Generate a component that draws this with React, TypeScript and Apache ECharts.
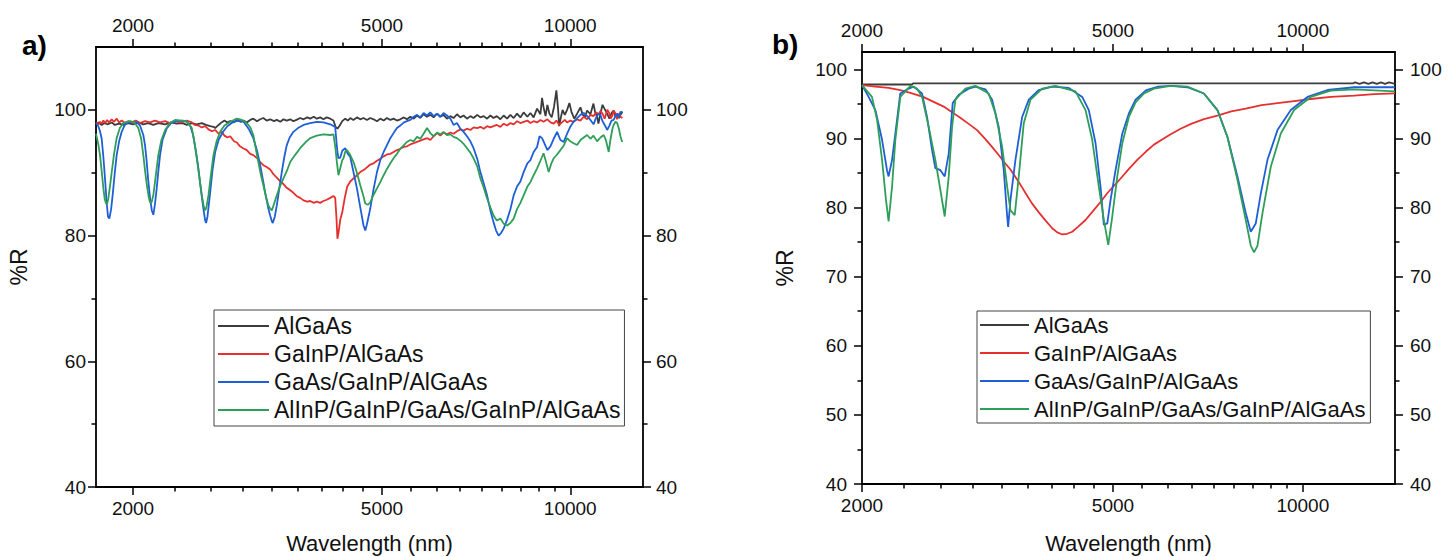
import React, { useEffect, useRef } from "react";
import * as echarts from "echarts";

const FONT = "'Liberation Sans', Arial, Helvetica, sans-serif";

const seriesNames = ["AlGaAs", "GaInP/AlGaAs", "GaAs/GaInP/AlGaAs", "AlInP/GaInP/GaAs/GaInP/AlGaAs"];
const seriesColors = ["#3c3c3c", "#e5302f", "#1f5fd6", "#2f9e58"];

const xMajorTicks = [2000, 5000, 10000];
const xMinorTicks = [2333.3, 2666.7, 3000, 3333.3, 3666.7, 4000, 4333.3, 4666.7, 5555.6, 6111.1, 6666.7, 7222.2, 7777.8, 8333.3, 8888.9, 9444.4];
const aYMajor = [40, 60, 80, 100];
const aYMinor = [50, 70, 90];
const bYMajor = [40, 50, 60, 70, 80, 90, 100];
const bYMinor = [45, 55, 65, 75, 85, 95];

// ---------- panel a) measured ----------
const aBlack = [
  [1745, 97.8], [1760, 98.0], [1782, 97.6], [1800, 97.9], [1824, 97.7], [1849, 98.0], [1870, 97.6], [1900, 97.8], [1930, 97.6], [1963, 97.9],
  [2000, 97.7], [2039, 98.0], [2077, 97.7], [2114, 97.9], [2155, 97.6], [2195, 97.9], [2251, 97.7], [2300, 98.0], [2349, 97.8], [2400, 97.9],
  [2437, 97.6], [2483, 97.9], [2529, 97.7], [2576, 97.9], [2617, 97.6], [2657, 97.4], [2689, 97.3], [2706, 97.1], [2740, 97.6], [2770, 98.0],
  [2800, 98.3], [2830, 98.0], [2860, 98.2], [2900, 98.0], [2931, 98.4], [2970, 98.1], [3004, 98.3], [3040, 98.0], [3078, 98.4], [3114, 98.6],
  [3157, 98.2], [3194, 98.5], [3231, 98.7], [3270, 98.3], [3313, 98.5], [3360, 98.2], [3395, 98.4], [3440, 98.1], [3479, 98.5], [3522, 98.3],
  [3567, 98.5], [3609, 98.2], [3650, 98.4], [3700, 98.7], [3746, 98.5], [3797, 98.8], [3839, 98.6], [3890, 98.9], [3934, 98.6], [3983, 98.8],
  [4031, 98.5], [4080, 98.8], [4133, 98.6], [4182, 98.3], [4215, 97.3], [4244, 97.0], [4280, 97.5], [4320, 98.2], [4367, 98.6], [4410, 98.3],
  [4449, 98.7], [4500, 98.4], [4560, 98.8], [4616, 98.5], [4672, 98.7], [4731, 98.4], [4789, 98.7], [4848, 98.5], [4909, 98.2], [4969, 98.6],
  [5031, 98.3], [5093, 98.7], [5156, 98.4], [5218, 98.6], [5284, 98.3], [5349, 98.5], [5420, 98.8], [5483, 98.5], [5550, 98.9], [5620, 98.6],
  [5688, 99.1], [5758, 98.7], [5828, 99.3], [5900, 98.9], [5974, 99.2], [6047, 98.8], [6124, 99.4], [6198, 98.9], [6272, 99.2], [6351, 98.6],
  [6431, 99.0], [6508, 98.7], [6590, 99.3], [6672, 98.8], [6752, 99.1], [6837, 98.6], [6923, 99.0], [7005, 98.7], [7101, 99.2], [7183, 98.8],
  [7272, 99.0], [7362, 98.6], [7452, 99.1], [7540, 98.7], [7630, 99.0], [7732, 98.5], [7825, 99.1], [7924, 98.6], [8022, 99.2], [8119, 98.7],
  [8220, 99.4], [8323, 98.8], [8423, 99.6], [8539, 98.9], [8635, 99.5], [8739, 98.8], [8850, 100.2], [8959, 99.3], [9014, 101.9], [9064, 100.4],
  [9130, 99.0], [9192, 100.8], [9260, 99.4], [9340, 98.8], [9420, 100.5], [9502, 103.1], [9560, 100.2], [9600, 97.4], [9660, 98.8], [9720, 100.0],
  [9800, 99.2], [9884, 100.0], [9968, 101.1], [10050, 99.6], [10150, 98.6], [10255, 99.4], [10381, 100.4], [10470, 99.2], [10560, 98.9], [10640, 99.9],
  [10770, 99.3], [10890, 101.0], [10960, 99.6], [11040, 98.9], [11092, 97.8], [11175, 99.4], [11260, 100.8], [11340, 100.2], [11453, 99.4], [11550, 98.6],
  [11640, 99.5], [11730, 99.9], [11810, 98.9], [11884, 99.4], [11960, 98.7], [12029, 99.2], [12118, 99.7],
];

const aRed = [
  [1745, 98.0], [1760, 97.7], [1771, 98.1], [1782, 97.8], [1793, 98.3], [1805, 97.9], [1818, 98.4], [1830, 98.0], [1849, 98.5], [1865, 98.1],
  [1883, 98.6], [1900, 98.0], [1918, 98.3], [1940, 97.9], [1963, 98.2], [1990, 98.0], [2020, 98.3], [2052, 97.9], [2090, 98.2], [2129, 98.0],
  [2168, 98.3], [2209, 98.0], [2251, 98.2], [2290, 97.9], [2335, 98.2], [2380, 98.0], [2437, 98.3], [2483, 98.0], [2510, 97.6], [2544, 97.5],
  [2576, 97.2], [2608, 97.4], [2640, 96.9], [2673, 96.6], [2706, 96.8], [2740, 96.2], [2770, 96.5], [2800, 95.9], [2830, 95.6], [2860, 95.8],
  [2900, 95.0], [2931, 94.8], [2965, 94.2], [2999, 93.9], [3040, 93.6], [3078, 93.0], [3114, 92.8], [3157, 92.3], [3194, 91.7], [3231, 91.2],
  [3270, 90.9], [3313, 90.5], [3345, 89.9], [3395, 89.2], [3440, 88.6], [3479, 88.2], [3522, 87.6], [3567, 87.2], [3609, 86.8], [3650, 86.3],
  [3700, 86.0], [3746, 85.6], [3797, 85.4], [3839, 85.5], [3890, 85.2], [3934, 85.4], [3983, 85.2], [4031, 85.5], [4080, 85.7], [4133, 86.0],
  [4182, 86.3], [4209, 86.0], [4228, 83.0], [4244, 79.5], [4262, 80.5], [4288, 82.5], [4320, 83.7], [4360, 86.0], [4400, 87.8], [4449, 88.6],
  [4503, 89.1], [4560, 89.6], [4616, 90.1], [4700, 90.6], [4789, 91.3], [4848, 91.5], [4909, 91.9], [4969, 92.2], [5031, 92.6], [5093, 92.9],
  [5156, 93.0], [5218, 93.3], [5284, 93.6], [5349, 93.8], [5420, 94.1], [5483, 94.2], [5550, 94.5], [5620, 94.7], [5688, 94.9], [5758, 95.1],
  [5828, 95.3], [5908, 95.5], [5974, 95.2], [6047, 95.8], [6124, 96.3], [6198, 95.9], [6272, 96.4], [6351, 96.1], [6431, 96.4], [6508, 96.2],
  [6590, 96.6], [6672, 96.9], [6752, 96.7], [6837, 97.0], [6923, 96.8], [7005, 97.2], [7101, 97.1], [7183, 97.3], [7272, 97.0], [7362, 97.4],
  [7452, 97.2], [7540, 97.4], [7630, 97.6], [7732, 97.3], [7825, 97.8], [7924, 97.5], [8022, 97.9], [8119, 97.7], [8220, 98.2], [8323, 97.9],
  [8423, 98.1], [8539, 98.3], [8635, 97.9], [8739, 98.2], [8850, 98.0], [8959, 98.4], [9064, 98.1], [9192, 98.5], [9300, 98.0], [9408, 97.8],
  [9502, 98.3], [9600, 97.6], [9700, 98.0], [9800, 98.4], [9884, 98.0], [10000, 98.3], [10116, 98.1], [10255, 98.5], [10381, 98.3], [10508, 98.9],
  [10640, 98.5], [10770, 99.2], [10890, 99.0], [11000, 99.6], [11092, 99.3], [11175, 99.8], [11260, 99.4], [11350, 98.6], [11460, 100.0], [11530, 99.6],
  [11600, 98.6], [11680, 99.1], [11730, 99.9], [11800, 99.5], [11884, 98.5], [11960, 99.4], [12029, 98.9], [12118, 98.7],
];

const aBlue = [
  [1745, 97.9], [1760, 97.4], [1771, 96.6], [1782, 95.4], [1793, 92.5], [1804, 89.0], [1814, 85.5], [1824, 83.0], [1833, 82.7], [1845, 84.2],
  [1856, 86.6], [1870, 90.0], [1883, 92.8], [1900, 95.0], [1918, 96.5], [1940, 97.6], [1963, 98.0], [2000, 98.1], [2030, 98.0], [2052, 97.5],
  [2077, 96.0], [2090, 94.4], [2102, 92.0], [2114, 89.0], [2129, 86.0], [2143, 84.0], [2155, 83.3], [2168, 85.0], [2182, 87.5], [2195, 90.2],
  [2209, 92.8], [2230, 95.3], [2265, 97.1], [2300, 97.9], [2349, 98.2], [2400, 98.3], [2437, 98.1], [2470, 97.4], [2495, 96.0], [2520, 93.5],
  [2544, 90.7], [2570, 87.0], [2591, 84.3], [2608, 82.4], [2617, 82.0], [2630, 83.0], [2657, 86.9], [2680, 90.5], [2706, 93.3], [2740, 95.2],
  [2789, 96.6], [2830, 97.4], [2894, 98.1], [2950, 98.3], [3004, 98.1], [3060, 97.0], [3114, 95.5], [3157, 93.5], [3194, 91.2], [3231, 88.5],
  [3252, 86.9], [3291, 84.3], [3313, 83.2], [3333, 82.3], [3345, 82.0], [3370, 83.0], [3395, 84.8], [3430, 87.8], [3458, 90.1], [3490, 92.5],
  [3522, 94.4], [3560, 95.6], [3609, 96.5], [3670, 97.1], [3746, 97.6], [3839, 97.9], [3934, 98.1], [4031, 98.0], [4133, 97.7], [4209, 97.3],
  [4228, 95.0], [4244, 93.3], [4260, 92.3], [4288, 92.4], [4320, 93.5], [4367, 93.9], [4410, 93.0], [4449, 92.5], [4500, 90.2], [4560, 87.5],
  [4616, 84.5], [4672, 81.6], [4702, 80.8], [4731, 81.8], [4789, 84.3], [4848, 87.4], [4909, 90.1], [4969, 92.0], [5031, 93.3], [5093, 94.4],
  [5156, 95.5], [5218, 96.3], [5284, 97.1], [5349, 97.5], [5420, 98.0], [5483, 98.2], [5550, 98.4], [5620, 98.9], [5688, 99.2], [5758, 98.8],
  [5828, 99.5], [5900, 99.1], [5974, 99.6], [6047, 99.0], [6124, 99.4], [6198, 98.9], [6272, 99.5], [6351, 99.1], [6431, 98.6], [6508, 97.6],
  [6590, 97.9], [6672, 97.0], [6752, 96.5], [6837, 95.8], [6923, 95.0], [7005, 93.9], [7101, 92.2], [7183, 90.1], [7272, 88.3], [7362, 86.4],
  [7452, 84.0], [7540, 82.1], [7610, 80.8], [7682, 80.0], [7750, 80.4], [7825, 81.1], [7924, 82.5], [8022, 84.2], [8119, 86.4], [8220, 87.8],
  [8323, 88.6], [8423, 90.1], [8539, 91.5], [8635, 92.0], [8739, 93.3], [8850, 94.1], [8930, 95.8], [9014, 95.5], [9100, 94.6], [9192, 93.6],
  [9295, 94.2], [9408, 95.4], [9527, 96.5], [9644, 95.2], [9761, 94.9], [9884, 96.2], [10000, 97.3], [10122, 98.1], [10255, 98.7], [10381, 99.2],
  [10508, 99.5], [10640, 99.0], [10770, 98.4], [10896, 97.7], [11000, 98.8], [11100, 99.4], [11175, 99.2], [11260, 98.2], [11350, 97.6], [11453, 96.8],
  [11550, 97.5], [11640, 98.3], [11730, 98.4], [11810, 99.0], [11884, 99.3], [11960, 98.8], [12029, 99.7], [12118, 99.6],
];

const aGreen = [
  [1745, 96.2], [1760, 94.5], [1771, 92.8], [1782, 90.2], [1793, 87.5], [1802, 85.8], [1811, 85.1], [1818, 85.0], [1826, 85.9], [1838, 88.0],
  [1849, 90.1], [1865, 93.0], [1883, 95.5], [1905, 97.1], [1930, 97.9], [1978, 98.2], [2010, 98.0], [2039, 97.1], [2060, 95.5], [2077, 92.8],
  [2092, 90.0], [2108, 87.5], [2120, 86.0], [2129, 85.3], [2140, 85.2], [2155, 86.4], [2175, 89.6], [2195, 92.8], [2220, 95.2], [2251, 96.8],
  [2290, 97.9], [2335, 98.4], [2390, 98.3], [2437, 98.2], [2483, 97.1], [2505, 95.0], [2529, 92.3], [2553, 89.2], [2576, 86.4], [2595, 84.6],
  [2608, 84.0], [2620, 84.5], [2640, 86.4], [2665, 89.8], [2689, 92.8], [2720, 95.0], [2756, 96.5], [2800, 97.5], [2860, 98.1], [2931, 98.6],
  [2985, 98.4], [3040, 97.9], [3080, 97.2], [3114, 96.0], [3140, 94.0], [3172, 91.7], [3200, 89.8], [3231, 88.0], [3260, 86.3], [3291, 84.8],
  [3313, 84.3], [3333, 84.0], [3360, 85.0], [3395, 86.4], [3437, 87.9], [3479, 89.1], [3520, 90.2], [3567, 91.7], [3630, 92.8], [3700, 93.9],
  [3770, 94.8], [3839, 95.5], [3934, 95.9], [4031, 96.1], [4133, 96.0], [4182, 96.1], [4212, 94.0], [4235, 91.7], [4260, 89.6], [4290, 90.8],
  [4320, 92.0], [4340, 92.3], [4367, 93.3], [4395, 93.6], [4449, 92.8], [4503, 91.7], [4560, 90.0], [4616, 88.0], [4672, 86.2], [4702, 85.1],
  [4750, 84.9], [4789, 85.3], [4848, 86.5], [4909, 87.5], [4969, 88.5], [5031, 89.6], [5093, 90.6], [5156, 91.5], [5218, 92.3], [5284, 93.0],
  [5349, 93.8], [5420, 94.4], [5483, 94.9], [5550, 95.2], [5620, 95.0], [5688, 95.7], [5758, 95.4], [5828, 96.2], [5902, 97.1], [5974, 96.3],
  [6047, 95.8], [6124, 96.4], [6198, 96.1], [6272, 96.5], [6351, 96.0], [6431, 96.1], [6508, 95.7], [6590, 95.5], [6672, 95.1], [6752, 94.6],
  [6837, 93.9], [6923, 93.2], [7005, 92.3], [7101, 91.0], [7183, 89.1], [7272, 87.6], [7362, 85.9], [7452, 84.5], [7540, 83.2], [7630, 82.4],
  [7732, 82.7], [7825, 81.9], [7924, 81.6], [8022, 82.0], [8119, 82.7], [8220, 84.2], [8323, 85.2], [8423, 86.4], [8539, 87.8], [8635, 88.5],
  [8739, 89.6], [8850, 90.7], [8959, 91.9], [9064, 93.1], [9130, 92.0], [9236, 90.1], [9320, 91.4], [9408, 92.3], [9527, 92.9], [9644, 93.6],
  [9761, 94.3], [9884, 95.5], [10000, 95.0], [10122, 94.7], [10255, 94.4], [10381, 95.2], [10508, 95.6], [10640, 96.0], [10770, 95.4], [10890, 95.9],
  [11039, 95.0], [11175, 95.6], [11310, 96.0], [11400, 95.2], [11520, 93.3], [11600, 95.4], [11680, 97.0], [11730, 97.6], [11810, 98.1], [11884, 97.9],
  [11960, 97.0], [12029, 95.8], [12105, 94.9],
];

// ---------- panel b) simulated ----------
const bBlack = [
  [2000, 97.8], [2400, 97.8], [2410, 97.95], [12000, 97.95], [12100, 98.1], [12300, 97.9], [12500, 98.1], [12700, 97.9], [12900, 98.1],
  [13100, 97.9], [13300, 98.1], [13500, 97.9], [13700, 98.1], [14000, 97.9],
];

const bRed = [
  [2000, 97.7], [2100, 97.5], [2204, 97.3], [2300, 97.0], [2386, 96.6], [2500, 96.0], [2583, 95.4], [2695, 94.6], [2779, 93.8], [2870, 92.9],
  [2953, 92.1], [3044, 91.2], [3138, 89.9], [3220, 88.7], [3294, 87.6], [3380, 86.3], [3439, 85.5], [3550, 83.6], [3633, 82.1], [3720, 80.6],
  [3814, 79.3], [3910, 78.1], [4005, 77.0], [4080, 76.4], [4154, 76.1], [4230, 76.2], [4309, 76.5], [4400, 77.2], [4523, 78.2], [4640, 79.4],
  [4778, 80.8], [4900, 82.1], [5047, 83.4], [5141, 84.2], [5300, 85.6], [5464, 86.9], [5640, 88.1], [5807, 89.1], [6000, 89.9], [6172, 90.6],
  [6400, 91.4], [6650, 92.1], [6969, 92.8], [7321, 93.3], [7700, 93.9], [8119, 94.3], [8600, 94.8], [9116, 95.1], [9686, 95.4], [10293, 95.7],
  [11075, 96.0], [12060, 96.2], [12978, 96.4], [14000, 96.5],
];

const bBlue = [
  [2000, 97.7], [2049, 96.0], [2100, 94.1], [2152, 89.8], [2191, 85.4], [2204, 84.5], [2232, 86.9], [2273, 92.7], [2300, 96.5], [2371, 97.2],
  [2415, 97.5], [2490, 96.5], [2536, 93.1], [2583, 88.3], [2614, 85.7], [2663, 85.4], [2705, 84.5], [2745, 87.8], [2785, 95.1], [2847, 96.3],
  [2953, 97.2], [3026, 97.5], [3138, 97.1], [3216, 95.6], [3294, 91.7], [3356, 85.4], [3398, 78.7], [3410, 77.2], [3439, 81.1], [3502, 86.9],
  [3589, 93.1], [3677, 95.6], [3814, 97.0], [4005, 97.5], [4256, 97.3], [4469, 96.0], [4578, 94.1], [4692, 89.3], [4778, 83.0], [4836, 77.5],
  [4897, 77.7], [4956, 81.1], [5047, 85.4], [5173, 90.7], [5299, 93.6], [5430, 95.6], [5650, 97.0], [5900, 97.5], [6172, 97.6], [6562, 97.4],
  [6969, 96.5], [7321, 94.1], [7594, 90.2], [7876, 84.5], [8119, 79.2], [8269, 76.5], [8421, 77.7], [8577, 82.0], [8789, 86.9], [9116, 91.2],
  [9570, 94.1], [10170, 96.0], [10943, 97.0], [12060, 97.4], [14000, 97.4],
];

const bGreen = [
  [2000, 97.7], [2074, 96.0], [2113, 92.7], [2152, 86.9], [2183, 81.1], [2204, 78.0], [2232, 83.0], [2259, 89.8], [2300, 96.0], [2386, 97.6],
  [2445, 97.2], [2490, 96.0], [2551, 91.7], [2614, 86.9], [2663, 82.5], [2705, 78.7], [2745, 84.5], [2779, 91.7], [2813, 95.6], [2917, 97.2],
  [3026, 97.6], [3176, 96.5], [3255, 93.6], [3336, 88.8], [3398, 83.0], [3439, 79.6], [3493, 78.9], [3545, 84.5], [3610, 92.2], [3700, 95.6],
  [3861, 97.2], [4054, 97.6], [4361, 96.8], [4523, 94.1], [4635, 89.8], [4749, 83.0], [4836, 78.2], [4915, 74.6], [4987, 78.7], [5079, 84.5],
  [5173, 89.3], [5299, 93.1], [5430, 95.2], [5600, 96.5], [5807, 97.2], [6172, 97.6], [6562, 97.5], [6969, 96.5], [7321, 94.1], [7594, 90.2],
  [7876, 84.0], [8119, 78.2], [8269, 74.5], [8369, 73.5], [8474, 74.5], [8630, 79.2], [8896, 85.9], [9227, 90.7], [9686, 94.1], [10293, 96.0],
  [11075, 96.9], [12060, 97.1], [14000, 96.8],
];

const aData = [aBlack, aRed, aBlue, aGreen];
const bData = [bBlack, bRed, bBlue, bGreen];

const LABEL = { fontSize: 19, fontFamily: FONT, color: "#111" };
const AXIS_LINE = { color: "#000", width: 1.8 };
const TICK_LINE = { color: "#000", width: 1.5 };

function xAxesFor(grid: number, min: number, max: number, nameGap: number) {
  const common: any = {
    type: "log", logBase: 10, gridIndex: grid, min, max,
    splitLine: { show: false }, minorTick: { show: false }, minorSplitLine: { show: false },
  };
  const major = (position: string) => ({
    ...common, position,
    axisLine: { show: true, onZero: false, lineStyle: AXIS_LINE },
    axisTick: { show: true, inside: false, length: 8, lineStyle: TICK_LINE, customValues: xMajorTicks },
    axisLabel: { show: true, customValues: xMajorTicks, margin: 12, ...LABEL, formatter: (v: number) => String(Math.round(v)) },
  });
  const minor = (position: string) => ({
    ...common, position,
    axisLine: { show: false, onZero: false },
    axisTick: { show: true, inside: false, length: 4.5, lineStyle: TICK_LINE, customValues: xMinorTicks },
    axisLabel: { show: false },
  });
  return [
    {
      ...major("bottom"), name: "Wavelength (nm)", nameLocation: "middle", nameGap,
      nameTextStyle: { fontSize: 22, fontFamily: FONT, color: "#111", lineHeight: 22 },
    },
    minor("bottom"),
    major("top"),
    minor("top"),
  ];
}

function yAxesFor(grid: number, min: number, max: number, majors: number[], minors: number[], lMargin: number, rMargin: number) {
  const common: any = { type: "value", gridIndex: grid, min, max, splitLine: { show: false } };
  const major = (position: string, margin: number) => ({
    ...common, position,
    axisLine: { show: true, onZero: false, lineStyle: AXIS_LINE },
    axisTick: { show: true, inside: false, length: 8, lineStyle: TICK_LINE, customValues: majors },
    axisLabel: { show: true, customValues: majors, margin, ...LABEL },
  });
  const minor = (position: string) => ({
    ...common, position,
    axisLine: { show: false, onZero: false },
    axisTick: { show: true, inside: false, length: 4.5, lineStyle: TICK_LINE, customValues: minors },
    axisLabel: { show: false },
  });
  return [
    {
      ...major("left", lMargin), name: "%R", nameLocation: "middle", nameRotate: 90, nameGap: 66,
      nameTextStyle: { fontSize: 23, fontFamily: FONT, color: "#111" },
    },
    minor("left"),
    major("right", rMargin),
    minor("right"),
  ];
}

function legendFor(left: number, top: number, itemWidth: number, fontSize: number, lineHeight: number, padding: number[]) {
  return {
    orient: "vertical", left, top, itemWidth, itemHeight: 2, itemGap: 0, icon: "rect",
    padding, borderColor: "#444", borderWidth: 1, backgroundColor: "#fff", borderRadius: 0,
    selectedMode: false,
    textStyle: { fontSize, fontFamily: FONT, color: "#111", lineHeight },
    data: seriesNames.map((n, i) => ({ name: n, itemStyle: { color: seriesColors[i] } })),
  };
}

function seriesFor(data: number[][][], xIdx: number, yIdx: number) {
  return data.map((d, i) => ({
    type: "line", name: seriesNames[i], xAxisIndex: xIdx, yAxisIndex: yIdx, data: d,
    showSymbol: false, symbol: "none", silent: true, z: 2 + i,
    lineStyle: { color: seriesColors[i], width: 1.8 },
    itemStyle: { color: seriesColors[i] },
  }));
}

const option: any = {
  animation: false,
  backgroundColor: "#fff",
  grid: [
    { left: 96, top: 47, width: 547, height: 440, containLabel: false, outerBoundsMode: "none" },
    { left: 862, top: 52, width: 533, height: 432, containLabel: false, outerBoundsMode: "none" },
  ],
  xAxis: [...xAxesFor(0, 1745, 13070, 45), ...xAxesFor(1, 2000, 14000, 48)],
  yAxis: [...yAxesFor(0, 40, 110, aYMajor, aYMinor, 10, 13), ...yAxesFor(1, 40, 102.5, bYMajor, bYMinor, 15, 15)],
  legend: [
    legendFor(214, 310, 51, 23, 28, [2, 4, 2, 4]),
    legendFor(977, 311, 49, 22, 28, [0, 5, 0, 3]),
  ],
  graphic: [
    { type: "text", left: 22, top: 31, style: { text: "a)", font: `bold 28px ${FONT}`, fill: "#000" } },
    { type: "text", left: 772, top: 30, style: { text: "b)", font: `bold 28px ${FONT}`, fill: "#000" } },
  ],
  series: [...seriesFor(aData, 0, 0), ...seriesFor(bData, 4, 4)],
};

export default function App() {
  const ref = useRef<HTMLDivElement>(null);
  useEffect(() => {
    const chart = echarts.init(ref.current!, null, { renderer: "svg" });
    chart.setOption(option);
    return () => chart.dispose();
  }, []);
  return (
    <div
      ref={ref}
      style={{ position: "absolute", left: 0, top: 0, width: 1455, height: 557, background: "#fff" }}
    />
  );
}
